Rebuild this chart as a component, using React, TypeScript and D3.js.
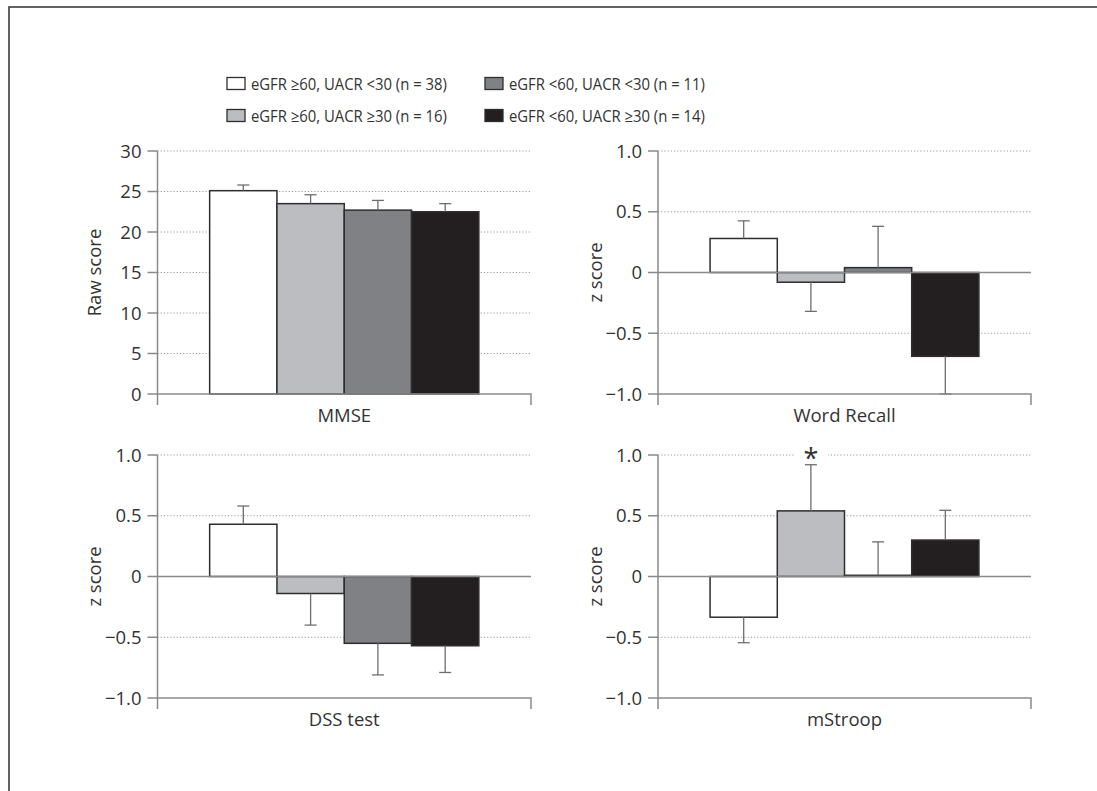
import React from "react";
import * as d3 from "d3";

const categories = ["MMSE", "Word Recall", "DSS test", "mStroop"];
const groups = [
  "eGFR ≥60, UACR <30 (n = 38)",
  "eGFR ≥60, UACR ≥30 (n = 16)",
  "eGFR <60, UACR <30 (n = 11)",
  "eGFR <60, UACR ≥30 (n = 14)",
];
const groupColors = ["#ffffff", "#bcbdc0", "#808184", "#231f20"];

const mmseMean = [25.1, 23.5, 22.7, 22.5];
const mmseErr = [0.7, 1.1, 1.2, 1.0];
const wordRecallMean = [0.28, -0.08, 0.04, -0.69];
const wordRecallErr = [0.145, 0.24, 0.34, 0.31];
const dssMean = [0.43, -0.14, -0.55, -0.57];
const dssErr = [0.15, 0.26, 0.26, 0.22];
const stroopMean = [-0.335, 0.54, 0.01, 0.3];
const stroopErr = [0.21, 0.38, 0.275, 0.245];

const yTitles = ["Raw score", "z score", "z score", "z score"];
const rawTicks = [0, 5, 10, 15, 20, 25, 30];
const rawTickLabels = ["0", "5", "10", "15", "20", "25", "30"];
const zTicks = [-1, -0.5, 0, 0.5, 1];
const zTickLabels = ["−1.0", "−0.5", "0", "0.5", "1.0"];
const significant = [[], [], [], [1]];

const FONT = "'Open Sans', 'Noto Sans', sans-serif";
const TEXT = "#333";
const AXIS = "#8a8a8c";
const AXIS_FS = 18.5;
const LEGEND_FS = 16.5;

type PanelProps = {
  idx: number;
  means: number[];
  errs: number[];
  ticks: number[];
  tickLabels: string[];
  x0: number;
  x1: number;
  yTop: number;
  yBot: number;
  titleX: number;
};

function Panel(p: PanelProps) {
  const domain = [p.ticks[0], p.ticks[p.ticks.length - 1]];
  const y = d3.scaleLinear().domain(domain).range([p.yBot, p.yTop]);
  const x = d3
    .scaleBand<string>()
    .domain(groups)
    .range([p.x0, p.x1])
    .paddingOuter(0.775)
    .paddingInner(0);
  const bw = x.bandwidth();
  const isZ = domain[0] < 0;
  return (
    <g>
      {p.ticks
        .filter((t) => t !== domain[0] && t !== 0)
        .map((t) => (
          <line
            key={"g" + t}
            x1={p.x0}
            x2={p.x1}
            y1={y(t)}
            y2={y(t)}
            stroke="#9a9a9a"
            strokeWidth={1}
            strokeDasharray="1.2,2"
          />
        ))}
      {p.means.map((v, i) => (
        <rect
          key={"b" + i}
          x={x(groups[i])}
          width={bw}
          y={y(Math.max(0, v))}
          height={Math.abs(y(v) - y(0))}
          fill={groupColors[i]}
          stroke="#2e2e2e"
          strokeWidth={1.5}
        />
      ))}
      {isZ && (
        <line x1={p.x0} x2={p.x1} y1={y(0)} y2={y(0)} stroke={AXIS} strokeWidth={1.5} />
      )}
      {p.means.map((v, i) => {
        const cx = (x(groups[i]) as number) + bw / 2;
        const s = v >= 0 ? 1 : -1;
        const end = y(v + s * p.errs[i]);
        return (
          <g key={"e" + i} stroke="#6d6e71" strokeWidth={1.3}>
            <line x1={cx} x2={cx} y1={y(v)} y2={end} />
            <line x1={cx - 6} x2={cx + 6} y1={end} y2={end} />
          </g>
        );
      })}
      {significant[p.idx].map((gi: number) => {
        const cx = (x(groups[gi]) as number) + bw / 2;
        const top = y(p.means[gi] + p.errs[gi]);
        return (
          <g key={"s" + gi}>
            <rect x={cx - 17} y={top - 18} width={34} height={16} fill="#fff" />
            <text
              x={cx}
              y={top + 3}
              textAnchor="middle"
              fontFamily={FONT}
              fontSize={27}
              fill={TEXT}
            >
              *
            </text>
          </g>
        );
      })}
      <line x1={p.x0} x2={p.x0} y1={p.yTop} y2={p.yBot + 11} stroke={AXIS} strokeWidth={1.5} />
      {p.ticks.map((t, i) => (
        <g key={"t" + t}>
          <line x1={p.x0 - 10} x2={p.x0} y1={y(t)} y2={y(t)} stroke={AXIS} strokeWidth={1.5} />
          <text
            x={p.x0 - 16}
            y={y(t)}
            dy="0.36em"
            textAnchor="end"
            fontFamily={FONT}
            fontSize={AXIS_FS}
            fill={TEXT}
          >
            {p.tickLabels[i]}
          </text>
        </g>
      ))}
      <path
        d={`M${p.x0},${p.yBot} H${p.x1} V${p.yBot + 11}`}
        fill="none"
        stroke={AXIS}
        strokeWidth={1.5}
      />
      <text
        x={(p.x0 + p.x1) / 2}
        y={p.yBot + 28}
        textAnchor="middle"
        fontFamily={FONT}
        fontSize={AXIS_FS}
        fill={TEXT}
      >
        {categories[p.idx]}
      </text>
      <text
        transform={`translate(${p.titleX},${(p.yTop + p.yBot) / 2}) rotate(-90)`}
        textAnchor="middle"
        fontFamily={FONT}
        fontSize={AXIS_FS}
        fill={TEXT}
      >
        {yTitles[p.idx]}
      </text>
    </g>
  );
}

export default function App() {
  const layout = [
    { x0: 157.5, x1: 531, yTop: 151, yBot: 394, titleX: 100.5 },
    { x0: 658, x1: 1031, yTop: 151, yBot: 394, titleX: 601.5 },
    { x0: 157.5, x1: 531, yTop: 455, yBot: 698, titleX: 100.5 },
    { x0: 658, x1: 1031, yTop: 455, yBot: 698, titleX: 601.5 },
  ];
  const means = [mmseMean, wordRecallMean, dssMean, stroopMean];
  const errs = [mmseErr, wordRecallErr, dssErr, stroopErr];
  const legendPos = [
    { x: 227, y: 77.5 },
    { x: 227, y: 109.5 },
    { x: 485, y: 77.5 },
    { x: 485, y: 109.5 },
  ];
  return (
    <svg
      width={1097}
      height={791}
      style={{ position: "absolute", left: 0, top: 0, background: "#fff" }}
    >
      <rect x={9} y={7} width={1200} height={1000} fill="none" stroke="#3c3c3c" strokeWidth={1.6} />
      {groups.map((g, i) => (
        <g key={g}>
          <rect
            x={legendPos[i].x}
            y={legendPos[i].y}
            width={18}
            height={12}
            fill={groupColors[i]}
            stroke="#2e2e2e"
            strokeWidth={1.3}
          />
          <text
            transform={`translate(${legendPos[i].x + 24},${legendPos[i].y + 12}) scale(0.9,1)`}
            fontFamily={FONT}
            fontSize={LEGEND_FS}
            fill={TEXT}
          >
            {g}
          </text>
        </g>
      ))}
      {layout.map((l, i) => (
        <Panel
          key={i}
          idx={i}
          means={means[i]}
          errs={errs[i]}
          ticks={i === 0 ? rawTicks : zTicks}
          tickLabels={i === 0 ? rawTickLabels : zTickLabels}
          {...l}
        />
      ))}
    </svg>
  );
}
